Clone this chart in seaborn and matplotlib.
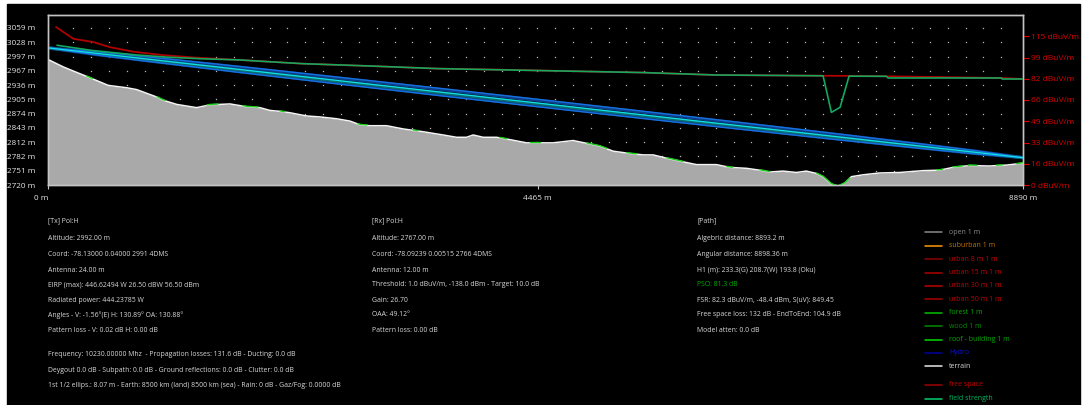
import numpy as np
import pandas as pd
import matplotlib
matplotlib.use("Agg")
import matplotlib.pyplot as plt
from matplotlib.patches import Rectangle
from matplotlib.lines import Line2D
import seaborn as sns

# ---------------------------------------------------------------- data
# terrain profile along the path: distance from Tx (m) and ground altitude (m)
terrain_dist = [0, 139, 231, 398, 550, 717, 808, 991, 1051, 1173, 1355, 1477, 1659,
                1811, 1932, 2024, 2115, 2206, 2358, 2479, 2632, 2753, 2844, 2935, 3087,
                3239, 3421, 3603, 3725, 3816, 3877, 3968, 4090, 4211, 4363, 4606, 4788,
                4910, 5031, 5153, 5305, 5426, 5517, 5639, 5791, 5913, 6095, 6216, 6369,
                6490, 6581, 6702, 6824, 6915, 7006, 7067, 7143, 7204, 7265, 7326, 7432,
                7584, 7766, 7978, 8130, 8252, 8404, 8586, 8739, 8890]
terrain_alt = [2991, 2975, 2966, 2950, 2935, 2930, 2926, 2910, 2903, 2894, 2887, 2893, 2895,
               2889, 2887, 2881, 2879, 2876, 2869, 2867, 2863, 2858, 2850, 2848, 2848,
               2841, 2835, 2828, 2823, 2823, 2828, 2823, 2823, 2818, 2811, 2811, 2816,
               2810, 2804, 2793, 2788, 2785, 2785, 2778, 2770, 2764, 2764, 2758, 2756,
               2752, 2748, 2750, 2747, 2750, 2745, 2738, 2722, 2717, 2724, 2738, 2742,
               2746, 2747, 2751, 2752, 2758, 2762, 2761, 2763, 2767]

# forest clutter stretches along the path (m)
forest_start = [355, 994, 1450, 1777, 2115, 2826, 3330, 4120, 4393, 4913, 5278, 5642,
                6189, 6490, 7010, 8103, 8252, 8389, 8650, 8833]
forest_end = [410, 1067, 1550, 1914, 2160, 2908, 3373, 4184, 4484, 5095, 5369, 5788,
              6244, 6581, 7310, 8158, 8343, 8471, 8705, 8890]

# free space field (dBuV/m)
free_dist = [73, 231, 413, 565, 778, 1051, 1355, 1659, 1960, 2324, 2935, 3543, 4147,
             4819, 5424, 6095, 6763, 7310, 7645, 8693, 8890]
free_level = [122.7, 113.5, 111.0, 107.0, 103.5, 100.8, 98.8, 97.5, 96.0, 94.2, 92.4,
              90.4, 89.5, 88.3, 87.3, 85.4, 85.0, 84.7, 84.4, 83.1, 82.3]

# computed field strength (dBuV/m)
field_dist = [82, 400, 800, 1100, 1400, 1750, 1960, 2324, 2935, 3543, 4147, 4819, 5424,
              6095, 6763, 7067, 7143, 7222, 7304, 7645, 7660, 8693, 8700, 8890]
field_level = [108.5, 104.5, 101.0, 99.2, 98.0, 97.1, 96.0, 94.2, 92.4, 90.4, 89.4, 88.3,
               87.3, 85.4, 85.0, 84.8, 56.4, 60.3, 84.5, 84.4, 83.1, 83.1, 82.3, 82.3]

# link end points
tx_ground, tx_antenna = 2992.0, 24.0
rx_ground, rx_antenna = 2767.0, 12.0
path_length = 8890

# first Fresnel ellipse half-width along the path (fraction of path, m)
fresnel_frac = [0, 0.05, 0.1, 0.2, 0.3, 0.4, 0.5, 0.6, 0.7, 0.8, 0.9, 0.95, 1.0]
fresnel_radius = [0, 3.5, 4.8, 6.5, 7.4, 7.9, 8.07, 7.9, 7.4, 6.5, 4.8, 3.5, 0]

# axis ticks
alt_ticks = [2720, 2750.8, 2781.6, 2812.5, 2843.3, 2874.1, 2904.9, 2935.7, 2966.6,
             2997.4, 3028.2, 3059.0]
alt_labels = ["2720 m", "2751 m", "2782 m", "2812 m", "2843 m", "2874 m", "2905 m",
              "2936 m", "2967 m", "2997 m", "3028 m", "3059 m"]
level_ticks = [0, 16.5, 33, 49.5, 66, 82.5, 99, 115.5]
level_labels = ["0 dBuV/m", "16 dBuV/m", "33 dBuV/m", "49 dBuV/m", "66 dBuV/m",
                "82 dBuV/m", "99 dBuV/m", "115 dBuV/m"]
dist_ticks = [0, 4465, 8890]
dist_labels = ["0 m", "4465 m", "8890 m"]

# report text
tx_lines = ["[Tx] Pol:H", "Altitude: 2992.00 m", "Coord: -78.13000 0.04000 2991 4DMS",
            "Antenna: 24.00 m", "EIRP (max): 446.62494 W 26.50 dBW 56.50 dBm",
            "Radiated power: 444.23785 W",
            "Angles - V: -1.56°(E) H: 130.89° OA: 130.88°",
            "Pattern loss - V: 0.02 dB H: 0.00 dB"]
summary_lines = ["Frequency: 10230.00000 Mhz  - Propagation losses: 131.6 dB - Ducting: 0.0 dB",
                 "Deygout 0.0 dB - Subpath: 0.0 dB - Ground reflections: 0.0 dB - Clutter: 0.0 dB",
                 "1st 1/2 ellips.: 8.07 m - Earth: 8500 km (land) 8500 km (sea) - Rain: 0 dB - Gaz/Fog: 0.0000 dB"]
rx_lines = ["[Rx] Pol:H", "Altitude: 2767.00 m", "Coord: -78.09239 0.00515 2766 4DMS",
            "Antenna: 12.00 m", "Threshold: 1.0 dBuV/m, -138.0 dBm - Target: 10.0 dB",
            "Gain: 26.70", "OAA: 49.12°", "Pattern loss: 0.00 dB"]
path_lines = ["[Path]", "Algebric distance: 8893.2 m", "Angular distance: 8898.36 m",
              "H1 (m): 233.3(G) 208.7(W) 193.8 (Oku)", "PSO: 81.3 dB",
              "FSR: 82.3 dBuV/m, -48.4 dBm, S(uV): 849.45",
              "Free space loss: 132 dB - EndToEnd: 104.9 dB", "Model atten: 0.0 dB"]

legend_labels = ["open 1 m", "suburban 1 m", "urban 8 m 1 m", "urban 15 m 1 m",
                 "urban 30 m 1 m", "urban 50 m 1 m", "forest 1 m", "wood 1 m",
                 "roof - building 1 m", "Hydro", "terrain", "free space", "field strength"]
legend_line_colors = ["#8a8a8a", "#ff9a00", "#8b0000", "#b00000", "#c00000", "#a80000",
                      "#00c000", "#008a00", "#00dd00", "#0000a0", "#e8e8e8", "#a00000",
                      "#00d070"]
legend_text_colors = ["#8a8a8a", "#c07000", "#c80000", "#c80000", "#c80000", "#c80000",
                      "#00a800", "#008a00", "#00a800", "#1010d0", "#d8d8d8", "#c80000",
                      "#00b860"]

# ---------------------------------------------------------------- style
sns.set_theme(style="dark", rc={"axes.facecolor": "black", "figure.facecolor": "white"})
plt.rcParams["font.family"] = ["Open Sans", "DejaVu Sans"]

W, H = 1083, 405
fig = plt.figure(figsize=(W / 100, H / 100), dpi=100)
fig.add_artist(Rectangle((7 / W, 0), (1080 - 7) / W, (H - 4) / H,
                         transform=fig.transFigure, color="black", zorder=0))

ax = fig.add_axes([48 / W, (H - 185) / H, (1023 - 48) / W, 170 / H])
ax.set_facecolor("black")
ax.set_xlim(0, path_length)
ax.set_ylim(2720, 3087)

# dotted grid
grid_x = np.arange(231, 8700, 162.7)
gx, gy = np.meshgrid(grid_x, alt_ticks[1:])
ax.plot(gx.ravel(), gy.ravel(), ls="none", marker="s", ms=0.9, mew=0,
        color="#b8b8b8", zorder=1)

# terrain
terrain = pd.DataFrame({"dist": terrain_dist, "alt": terrain_alt})
ax.fill_between(terrain["dist"], terrain["alt"], 2700, color="#a9a9a9", lw=0, zorder=2)
sns.lineplot(data=terrain, x="dist", y="alt", ax=ax, color="#f4f4f4", lw=1.1, zorder=3)
for s, e in zip(forest_start, forest_end):
    seg = [p for p in terrain_dist if s < p < e]
    xs = np.array([s] + seg + [e], dtype=float)
    ys = np.interp(xs, terrain_dist, terrain_alt) + 1
    ax.plot(xs, ys, color="#18d018", lw=1.0, zorder=4, clip_on=True)

# line of sight and Fresnel ellipse
frac = np.array(fresnel_frac)
rad = np.array(fresnel_radius)
top = tx_ground + tx_antenna
bot = rx_ground + rx_antenna
los = top + (bot - top) * frac
fres = pd.DataFrame({"dist": frac * path_length, "los": los,
                     "upper": los + rad, "lower": los - rad,
                     "upper_in": los + 0.72 * rad, "lower_in": los - 0.72 * rad,
                     "los_low": los - 0.22 * rad})
sns.lineplot(data=fres, x="dist", y="upper_in", ax=ax, color="#0b3f88", lw=2.4, zorder=5)
sns.lineplot(data=fres, x="dist", y="lower_in", ax=ax, color="#0b3f88", lw=2.4, zorder=5)
sns.lineplot(data=fres, x="dist", y="los_low", ax=ax, color="#0a7070", lw=2.0, zorder=5)
sns.lineplot(data=fres, x="dist", y="upper", ax=ax, color="#1670e0", lw=1.0, zorder=6)
sns.lineplot(data=fres, x="dist", y="lower", ax=ax, color="#1670e0", lw=1.0, zorder=6)
sns.lineplot(data=fres, x="dist", y="los", ax=ax, color="#10e0e8", lw=0.9, zorder=6)

# field strength on the right-hand scale
ax2 = ax.twinx()
ax2.set_ylim(0, 132)
free = pd.DataFrame({"dist": free_dist, "level": free_level})
field = pd.DataFrame({"dist": field_dist, "level": field_level})
sns.lineplot(data=free, x="dist", y="level", ax=ax2, color="#b00000", lw=1.3, zorder=3)
sns.lineplot(data=field, x="dist", y="level", ax=ax2, color="#14a860", lw=1.2, zorder=4)

# axes cosmetics
for a in (ax, ax2):
    for sp in a.spines.values():
        sp.set_color("#c4c4c4")
        sp.set_linewidth(1.0)
        sp.set_visible(True)
    a.set_xlabel("")
    a.set_ylabel("")

ax.set_yticks(alt_ticks, alt_labels)
ax.tick_params(axis="y", length=0, pad=9, labelsize=5.9, labelcolor="#e6e6e6")
ax.set_xticks(dist_ticks, dist_labels)
ax.tick_params(axis="x", bottom=True, length=3, width=0.8, color="#c4c4c4", pad=4,
               labelsize=5.9, labelcolor="#e6e6e6", direction="out")
for lab, ha in zip(ax.get_xticklabels(), ["right", "center", "center"]):
    lab.set_horizontalalignment(ha)

ax2.set_yticks(level_ticks, level_labels)
ax2.tick_params(axis="y", right=True, length=4, width=0.8, color="#e00000", pad=2,
                labelsize=6.0, labelcolor="#e00000", direction="out")

# report panel
def put(x, y, s, color="#d8d8d8"):
    fig.text(x / W, 1 - y / H, s, color=color, fontsize=4.95, va="center", ha="left")

row_y = [221, 239, 254.5, 270, 285, 300, 315, 330.5]
for y, s in zip(row_y, tx_lines):
    put(48, y, s)
for y, s in zip([355, 370, 385.5], summary_lines):
    put(48, y, s)
for y, s in zip(row_y, rx_lines):
    put(372, y, s)
for y, s in zip(row_y, path_lines):
    put(697, y, s, "#00a800" if s.startswith("PSO") else "#d8d8d8")

# legend
leg_y = [232.3, 245.7, 259.1, 272.5, 285.9, 299.3, 312.7, 326.1, 339.5, 352.9, 366.3,
         385, 398.5]
for y, lab, lc, tc in zip(leg_y, legend_labels, legend_line_colors, legend_text_colors):
    fig.add_artist(Line2D([925 / W, 942 / W], [1 - y / H, 1 - y / H], color=lc, lw=1.1,
                          transform=fig.transFigure))
    fig.text(949 / W, 1 - y / H, lab, color=tc, fontsize=5.0, va="center", ha="left")

fig.savefig("out.png", dpi=100)
